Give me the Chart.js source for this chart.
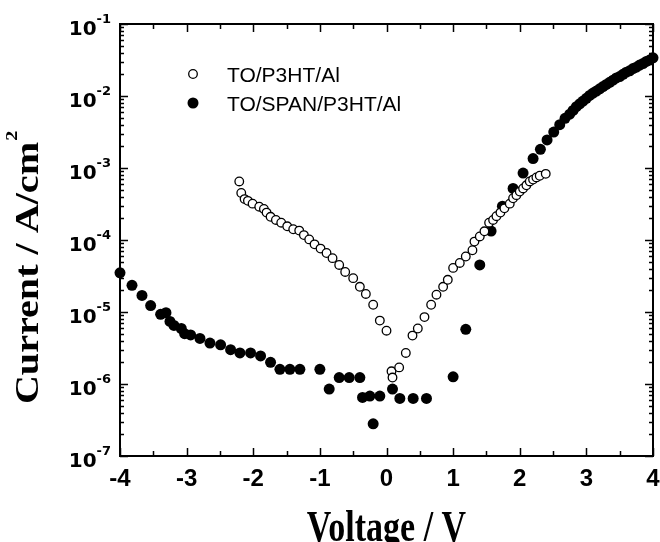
<!DOCTYPE html>
<html>
<head>
<meta charset="utf-8">
<script src="https://cdn.jsdelivr.net/npm/chart.js@4.4.1/dist/chart.umd.min.js"></script>
<style>
  body { margin: 0; background: #fff; }
  #wrap { width: 660px; height: 542px; }
</style>
</head>
<body>
<div id="wrap"><canvas id="iv-chart" width="660" height="542"></canvas></div>
<script>
var seriesLabels = ['TO/P3HT/Al', 'TO/SPAN/P3HT/Al'];

// TO/P3HT/Al (open circles)
var voltageA = [-2.21, -2.18, -2.13, -2.08, -2.01, -1.91, -1.84, -1.80, -1.74, -1.66,
    -1.58, -1.49, -1.40, -1.31, -1.24, -1.16, -1.08, -0.99, -0.90, -0.81,
    -0.71, -0.62, -0.50, -0.40, -0.31, -0.20, -0.10, 0.00, 0.075, 0.09,
    0.19, 0.29, 0.39, 0.47, 0.57, 0.67, 0.75, 0.85, 0.92, 1.00,
    1.10, 1.19, 1.29, 1.32, 1.40, 1.47, 1.54, 1.60, 1.65, 1.71,
    1.77, 1.85, 1.90, 1.95, 2.00, 2.05, 2.10, 2.15, 2.20, 2.25,
    2.30, 2.39];
var currentA = [6.5e-4, 4.5e-4, 3.7e-4, 3.5e-4, 3.2e-4, 2.9e-4, 2.7e-4, 2.4e-4, 2.1e-4, 1.9e-4,
    1.74e-4, 1.55e-4, 1.41e-4, 1.35e-4, 1.17e-4, 1.02e-4, 8.7e-5, 7.6e-5, 6.6e-5, 5.6e-5,
    4.5e-5, 3.6e-5, 2.95e-5, 2.24e-5, 1.78e-5, 1.26e-5, 7.6e-6, 5.5e-6, 1.5e-6, 1.23e-6,
    1.7e-6, 2.7e-6, 4.7e-6, 5.9e-6, 8.5e-6, 1.26e-5, 1.74e-5, 2.24e-5, 2.8e-5, 4.1e-5,
    4.8e-5, 5.9e-5, 7.2e-5, 9.5e-5, 1.12e-4, 1.32e-4, 1.74e-4, 1.9e-4, 2.14e-4, 2.4e-4,
    2.75e-4, 3.2e-4, 3.8e-4, 4.2e-4, 4.7e-4, 5.2e-4, 5.75e-4, 6.5e-4, 6.9e-4, 7.4e-4,
    7.8e-4, 8.3e-4];

// TO/SPAN/P3HT/Al (filled circles)
var voltageB = [-4.00, -3.82, -3.67, -3.54, -3.39, -3.31, -3.25, -3.19, -3.08, -3.03,
    -2.94, -2.80, -2.65, -2.49, -2.34, -2.20, -2.04, -1.89, -1.74, -1.60,
    -1.45, -1.30, -1.00, -0.86, -0.71, -0.56, -0.40, -0.36, -0.25, -0.20,
    -0.10, 0.09, 0.20, 0.40, 0.60, 1.00, 1.19, 1.40, 1.57, 1.74,
    1.90, 2.05, 2.20, 2.31, 2.41, 2.51, 2.60, 2.68, 2.75, 2.80,
    2.85, 2.90, 2.95, 3.00, 3.05, 3.10, 3.15, 3.20, 3.25, 3.30,
    3.35, 3.40, 3.45, 3.50, 3.55, 3.60, 3.65, 3.70, 3.75, 3.80,
    3.85, 3.90, 3.95, 4.00];
var currentB = [3.5e-5, 2.35e-5, 1.7e-5, 1.23e-5, 9.3e-6, 9.8e-6, 7.4e-6, 6.5e-6, 5.9e-6, 5.0e-6,
    4.8e-6, 4.3e-6, 3.7e-6, 3.5e-6, 3.0e-6, 2.7e-6, 2.7e-6, 2.45e-6, 2.0e-6, 1.6e-6,
    1.6e-6, 1.6e-6, 1.6e-6, 8.5e-7, 1.23e-6, 1.23e-6, 1.23e-6, 6.5e-7, 6.8e-7, 2.8e-7,
    6.8e-7, 8.5e-7, 6.3e-7, 6.3e-7, 6.3e-7, 1.26e-6, 5.75e-6, 4.5e-5, 1.33e-4, 2.95e-4,
    5.2e-4, 8.5e-4, 1.35e-3, 1.82e-3, 2.45e-3, 3.16e-3, 4.0e-3, 4.9e-3, 5.6e-3, 6.3e-3,
    7.1e-3, 7.8e-3, 8.5e-3, 9.3e-3, 1.02e-2, 1.10e-2, 1.17e-2, 1.26e-2, 1.35e-2, 1.45e-2,
    1.55e-2, 1.66e-2, 1.78e-2, 1.86e-2, 2.0e-2, 2.14e-2, 2.24e-2, 2.4e-2, 2.51e-2, 2.69e-2,
    2.82e-2, 3.02e-2, 3.16e-2, 3.39e-2];

var xTickValues = [-4, -3, -2, -1, 0, 1, 2, 3, 4];
var yTickExponents = [-7, -6, -5, -4, -3, -2, -1];

function toPoints(xs, ys) {
    return xs.map(function (v, i) { return { x: v, y: ys[i] }; });
}

// draws frame, inward ticks, tick labels, titles and legend
var decorPlugin = {
    id: 'decor',
    afterDraw: function (chart) {
        var ctx = chart.ctx;
        var a = chart.chartArea;
        var xs = chart.scales.x;
        var ys = chart.scales.y;
        ctx.save();
        ctx.strokeStyle = '#000';
        ctx.fillStyle = '#000';
        ctx.lineWidth = 2;
        ctx.strokeRect(a.left, a.top, a.right - a.left, a.bottom - a.top);

        ctx.lineWidth = 1.5;
        ctx.beginPath();
        for (var v = -4; v <= 4; v += 0.5) {
            var px = Math.round(xs.getPixelForValue(v)) + 0.5;
            var len = (v % 1 === 0) ? 8 : 5;
            ctx.moveTo(px, a.bottom); ctx.lineTo(px, a.bottom - len);
            ctx.moveTo(px, a.top); ctx.lineTo(px, a.top + len);
        }
        yTickExponents.forEach(function (e) {
            var py = Math.round(ys.getPixelForValue(Math.pow(10, e))) + 0.5;
            ctx.moveTo(a.left, py); ctx.lineTo(a.left + 8, py);
            ctx.moveTo(a.right, py); ctx.lineTo(a.right - 8, py);
            if (e < -1) {
                for (var m = 2; m <= 9; m++) {
                    var pm = Math.round(ys.getPixelForValue(m * Math.pow(10, e))) + 0.5;
                    ctx.moveTo(a.left, pm); ctx.lineTo(a.left + 4, pm);
                    ctx.moveTo(a.right, pm); ctx.lineTo(a.right - 4, pm);
                }
            }
        });
        ctx.stroke();

        // x tick labels
        ctx.font = 'bold 24px "Liberation Sans", Arial, sans-serif';
        ctx.textAlign = 'center';
        ctx.textBaseline = 'alphabetic';
        xTickValues.forEach(function (v) {
            ctx.fillText(String(v), xs.getPixelForValue(v), 486);
        });

        // y tick labels 10^n
        yTickExponents.forEach(function (e) {
            var py = ys.getPixelForValue(Math.pow(10, e));
            ctx.textAlign = 'right';
            ctx.font = 'bold 13px "DejaVu Sans", sans-serif';
            var sup = String(e);
            ctx.fillText(sup, 111, py - 1);
            var sw = ctx.measureText(sup).width;
            ctx.font = 'bold 20px "DejaVu Sans", sans-serif';
            ctx.fillText('10', 111 - sw, py + 11);
        });

        // x title
        ctx.save();
        ctx.font = 'bold 34px "Liberation Serif", "Times New Roman", serif';
        ctx.textAlign = 'center';
        ctx.translate((a.left + a.right) / 2, 541);
        ctx.scale(1, 1.3);
        ctx.fillText('Voltage / V', 0, 0);
        ctx.restore();

        // y title
        ctx.save();
        ctx.translate(38, 268);
        ctx.rotate(-Math.PI / 2);
        ctx.scale(1.18, 1);
        ctx.font = 'bold 34px "Liberation Serif", "Times New Roman", serif';
        var main = 'Current / A/cm';
        var mw = ctx.measureText(main).width;
        ctx.font = 'bold 17px "Liberation Serif", "Times New Roman", serif';
        var tw = mw + ctx.measureText('2').width;
        ctx.textAlign = 'left';
        ctx.fillText('2', -tw / 2 + mw + 1, -21);
        ctx.font = 'bold 34px "Liberation Serif", "Times New Roman", serif';
        ctx.fillText(main, -tw / 2, 0);
        ctx.restore();

        // legend
        ctx.lineWidth = 1.3;
        ctx.beginPath();
        ctx.arc(193, 74, 4.3, 0, Math.PI * 2);
        ctx.fillStyle = '#fff';
        ctx.fill();
        ctx.stroke();
        ctx.fillStyle = '#000';
        ctx.beginPath();
        ctx.arc(193, 103, 5.5, 0, Math.PI * 2);
        ctx.fill();
        ctx.font = '21px "Liberation Sans", Arial, sans-serif';
        ctx.textAlign = 'left';
        ctx.fillText(seriesLabels[0], 227, 82);
        ctx.fillText(seriesLabels[1], 227, 111);
        ctx.restore();
    }
};

var ctx = document.getElementById('iv-chart').getContext('2d');
var chart = new Chart(ctx, {
    type: 'scatter',
    data: {
        datasets: [{
            label: seriesLabels[0],
            data: toPoints(voltageA, currentA),
            pointRadius: 4.3,
            pointBorderWidth: 1.3,
            pointBackgroundColor: '#fff',
            pointBorderColor: '#000',
            clip: false
        }, {
            label: seriesLabels[1],
            data: toPoints(voltageB, currentB),
            pointRadius: 5.5,
            pointBorderWidth: 0,
            pointBackgroundColor: '#000',
            pointBorderColor: '#000',
            clip: false
        }]
    },
    options: {
        responsive: false,
        animation: false,
        devicePixelRatio: 1,
        layout: { padding: { left: 0, right: 7, top: 24, bottom: 0 } },
        plugins: {
            legend: { display: false },
            tooltip: { enabled: false }
        },
        scales: {
            x: {
                type: 'linear',
                min: -4,
                max: 4,
                grid: { display: false },
                border: { display: false },
                ticks: { display: false },
                afterFit: function (s) { s.height = 86; }
            },
            y: {
                type: 'logarithmic',
                min: 1e-7,
                max: 1e-1,
                grid: { display: false },
                border: { display: false },
                ticks: { display: false },
                afterFit: function (s) { s.width = 120; }
            }
        }
    },
    plugins: [decorPlugin]
});
</script>
</body>
</html>
